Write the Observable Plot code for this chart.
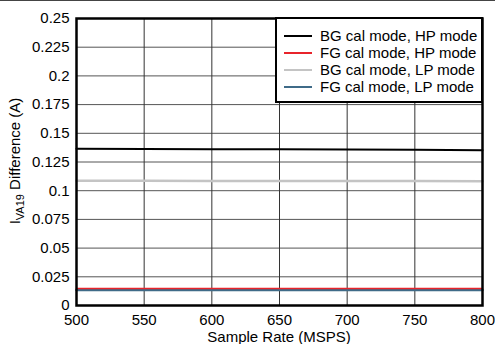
<!DOCTYPE html>
<html>
<head>
<meta charset="utf-8">
<script src="https://cdn.jsdelivr.net/npm/d3@7"></script>
<script src="https://cdn.jsdelivr.net/npm/@observablehq/plot@0.6"></script>
<style>
  html, body { margin: 0; padding: 0; background: #fff; }
  #wrap { position: relative; width: 495px; height: 344px; overflow: hidden; font-family: "Liberation Sans", Arial, sans-serif; }
  #topline { position: absolute; left: 0; top: 0; width: 495px; height: 1px; background: #444; }
  #legend { position: absolute; left: 275px; top: 17px; width: 204px; height: 82px; border: 2px solid #000; background: #fff; box-sizing: content-box; font-size: 15px; color: #000; }
  .row { position: absolute; left: 0; height: 17px; line-height: 17px; white-space: nowrap; }
  .sw { position: absolute; left: 7px; top: 8px; width: 28px; height: 2px; }
  .lb { position: absolute; left: 43px; top: 0; }
</style>
</head>
<body>
<div id="wrap"><div id="topline"></div></div>
<script>
const sampleRates = [500, 550, 600, 650, 700, 750, 800];
const bgHP = [0.1365, 0.1363, 0.1362, 0.1360, 0.1358, 0.1356, 0.1353];
const fgHP = [0.0148, 0.0148, 0.0148, 0.0148, 0.0148, 0.0148, 0.0148];
const bgLP = [0.1086, 0.1086, 0.1085, 0.1085, 0.1084, 0.1084, 0.1083];
const fgLP = [0.0134, 0.0134, 0.0134, 0.0134, 0.0134, 0.0134, 0.0134];
const seriesNames = ["BG cal mode, HP mode", "FG cal mode, HP mode", "BG cal mode, LP mode", "FG cal mode, LP mode"];
const seriesColors = ["#000000", "#e8242b", "#c4c4c4", "#3f6b88"];
const seriesWidths = [2, 1.5, 2.5, 2.5];
const seriesValues = [bgHP, fgHP, bgLP, fgLP];
const xTicks = [500, 550, 600, 650, 700, 750, 800];
const yTicks = [0, 0.025, 0.05, 0.075, 0.1, 0.125, 0.15, 0.175, 0.2, 0.225, 0.25];

const rows = [];
seriesValues.forEach((vals, i) => vals.forEach((v, j) => rows.push({x: sampleRates[j], y: v, s: seriesNames[i]})));

const drawOrder = [0, 2, 3, 1];

const chart = Plot.plot({
  width: 495,
  height: 344,
  marginLeft: 76,
  marginRight: 13,
  marginTop: 18,
  marginBottom: 39,
  style: {fontFamily: "'Liberation Sans', Arial, sans-serif", fontSize: "15px", color: "#000", background: "transparent"},
  x: {domain: [500, 800], ticks: xTicks, tickFormat: d => String(d), label: null, tickSize: 0, tickPadding: 9},
  y: {domain: [0, 0.25], ticks: yTicks, tickFormat: d => String(d), label: null, tickSize: 0, tickPadding: 7},
  marks: [
    Plot.ruleY(yTicks, {stroke: "#555", strokeWidth: 1}),
    Plot.ruleX(xTicks, {stroke: "#333", strokeWidth: 1}),
    ...drawOrder.map(i => Plot.line(rows.filter(r => r.s === seriesNames[i]), {x: "x", y: "y", stroke: seriesColors[i], strokeWidth: seriesWidths[i]})),
    Plot.frame({stroke: "#000", strokeWidth: 2.5}),
    Plot.axisX({ticks: xTicks, tickFormat: d => String(d), tickSize: 0, tickPadding: 9, fontSize: 15, label: null}),
    Plot.axisY({ticks: yTicks, tickFormat: d => String(d), tickSize: 0, tickPadding: 7, fontSize: 15, label: null})
  ]
});

const wrap = document.getElementById("wrap");
wrap.appendChild(chart);

const svg = d3.select(chart);
svg.append("text")
  .attr("x", (76 + 482) / 2).attr("y", 342)
  .attr("text-anchor", "middle")
  .attr("font-size", 15).attr("fill", "#000")
  .text("Sample Rate (MSPS)");
const yt = svg.append("text")
  .attr("transform", "translate(20,161) rotate(-90)")
  .attr("text-anchor", "middle")
  .attr("font-size", 15).attr("fill", "#000");
yt.append("tspan").text("I");
yt.append("tspan").attr("font-size", 11).attr("dy", 4).text("VA19");
yt.append("tspan").attr("dy", -4).text(" Difference (A)");

const legend = document.createElement("div");
legend.id = "legend";
seriesNames.forEach((name, i) => {
  const row = document.createElement("div");
  row.className = "row";
  row.style.top = (8 + i * 17) + "px";
  row.style.width = "204px";
  const sw = document.createElement("div");
  sw.className = "sw";
  sw.style.background = seriesColors[i];
  const lb = document.createElement("div");
  lb.className = "lb";
  lb.textContent = name;
  row.appendChild(sw);
  row.appendChild(lb);
  legend.appendChild(row);
});
wrap.appendChild(legend);
chart.style.position = "absolute";
chart.style.left = "0";
chart.style.top = "0";
</script>
</body>
</html>
